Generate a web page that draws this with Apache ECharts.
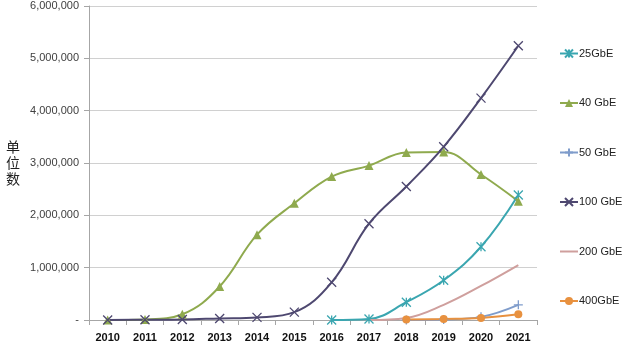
<!DOCTYPE html>
<html>
<head>
<meta charset="utf-8">
<script src="https://cdn.jsdelivr.net/npm/echarts@6/dist/echarts.min.js"></script>
<style>
  html, body { margin: 0; padding: 0; background: #fff; }
  #chart { width: 624px; height: 346px; }
</style>
</head>
<body>
<div id="chart"></div>
<script>
// Ethernet port shipments by speed, 2010-2021
const years = ['2010','2011','2012','2013','2014','2015','2016','2017','2018','2019','2020','2021'];

const gbe25  = [null, null, null, null, null, null, 0, 20000, 340000, 760000, 1400000, 2390000];
const gbe40  = [0, 10000, 110000, 640000, 1630000, 2230000, 2740000, 2950000, 3200000, 3210000, 2780000, 2270000];
const gbe50  = [null, null, null, null, null, null, null, null, 0, 10000, 60000, 290000];
const gbe100 = [0, 5000, 10000, 30000, 50000, 150000, 720000, 1840000, 2550000, 3310000, 4240000, 5240000];
const gbe200 = [null, null, null, null, null, null, null, 0, 40000, 290000, 650000, 1050000];
const gbe400 = [null, null, null, null, null, null, null, null, 10000, 20000, 40000, 110000];

const yTicks = [0, 1000000, 2000000, 3000000, 4000000, 5000000, 6000000];

const crossPath = 'path://M0,0L10,10M10,0L0,10';
const starPath = 'path://M0,0L10,10M10,0L0,10M5,0L5,10';
const plusPath = 'path://M5,0L5,10M0,5L10,5';

function lineSeries(name, data, color, symbol, size, stroked) {
  return {
    name: name,
    type: 'line',
    data: data,
    smooth: 0.4,
    connectNulls: false,
    symbol: symbol,
    symbolSize: size,
    showSymbol: true,
    lineStyle: { color: color, width: 2 },
    itemStyle: stroked
      ? { color: 'rgba(0,0,0,0)', borderColor: color, borderWidth: 1.3 }
      : { color: color, borderColor: color, borderWidth: 0 },
    emphasis: { disabled: true }
  };
}

const chart = echarts.init(document.getElementById('chart'), null, { renderer: 'canvas' });

chart.setOption({
  animation: false,
  backgroundColor: '#ffffff',
  grid: { left: 89, right: 87, top: 6, bottom: 26, containLabel: false },
  legend: {
    orient: 'vertical',
    left: 554,
    top: 43,
    itemGap: 38.5,
    itemWidth: 18,
    itemHeight: 10,
    textStyle: { fontSize: 11, color: '#222', fontFamily: 'Liberation Sans, Arial, sans-serif', padding: [0, 0, 0, -4] },
    data: [
      '25GbE', '40 GbE', '50 GbE', '100 GbE',
      { name: '200 GbE', itemStyle: { color: 'rgba(0,0,0,0)', borderWidth: 0 } },
      '400GbE'
    ]
  },
  graphic: [{
    type: 'text',
    left: 6,
    top: 139,
    style: {
      text: '单\n位\n数',
      font: '14px "Noto Sans CJK SC", sans-serif',
      lineHeight: 16,
      fill: '#222'
    }
  }],
  xAxis: {
    type: 'category',
    data: years,
    boundaryGap: true,
    axisLine: { show: true, lineStyle: { color: '#a6a6a6', width: 1 } },
    axisTick: { show: true, length: 5, lineStyle: { color: '#a6a6a6' } },
    axisLabel: {
      margin: 12,
      fontSize: 11,
      fontWeight: 'bold',
      color: '#111',
      fontFamily: 'Liberation Sans, Arial, sans-serif'
    },
    splitLine: { show: false }
  },
  yAxis: {
    type: 'value',
    min: yTicks[0],
    max: yTicks[yTicks.length - 1],
    interval: 1000000,
    axisLine: { show: true, lineStyle: { color: '#a6a6a6', width: 1 } },
    axisTick: { show: true, length: 5, lineStyle: { color: '#a6a6a6' } },
    axisLabel: {
      margin: 10,
      fontSize: 11,
      color: '#404040',
      fontFamily: 'Liberation Sans, Arial, sans-serif',
      formatter: function (v) {
        return v === 0 ? '-' : v.toString().replace(/\B(?=(\d{3})+(?!\d))/g, ',');
      }
    },
    splitLine: { show: true, lineStyle: { color: '#d0d0d0', width: 1 } }
  },
  series: [
    lineSeries('25GbE', gbe25, '#3aa6b0', starPath, 9, true),
    lineSeries('40 GbE', gbe40, '#8faa4e', 'triangle', 9, false),
    lineSeries('50 GbE', gbe50, '#7f9ccb', plusPath, 9, true),
    lineSeries('100 GbE', gbe100, '#4e4870', crossPath, 9, true),
    lineSeries('200 GbE', gbe200, '#cf9f9d', 'none', 4, false),
    lineSeries('400GbE', gbe400, '#e8913f', 'circle', 8, false)
  ]
});
</script>
</body>
</html>
